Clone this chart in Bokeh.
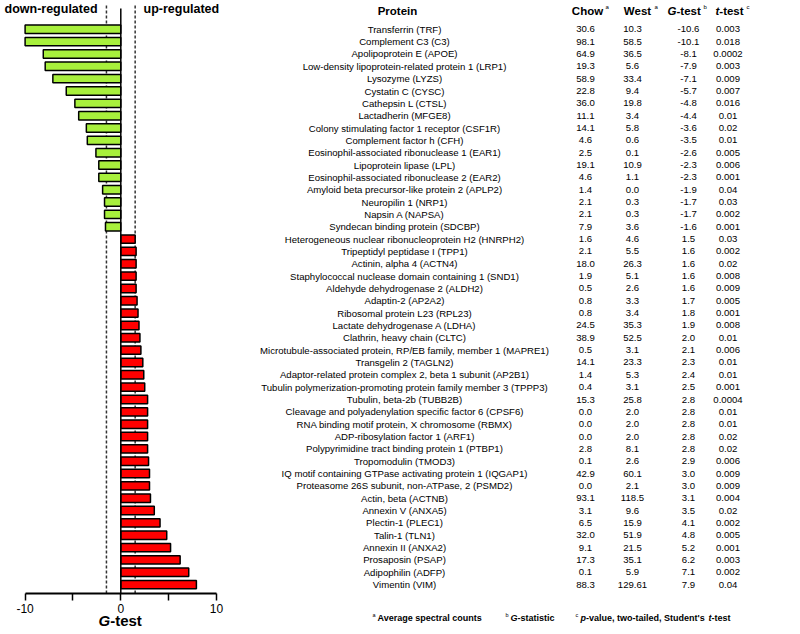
import numpy as np
from bokeh.plotting import figure
from bokeh.models import Range1d, FixedTicker, ColumnDataSource
from bokeh.core.properties import value
from bokeh.embed import file_html
from bokeh.resources import INLINE

proteins = [
    "Transferrin (TRF)", "Complement C3 (C3)", "Apolipoprotein E (APOE)",
    "Low-density lipoprotein-related protein 1 (LRP1)", "Lysozyme (LYZS)",
    "Cystatin C (CYSC)", "Cathepsin L (CTSL)", "Lactadherin (MFGE8)",
    "Colony stimulating factor 1 receptor (CSF1R)", "Complement factor h (CFH)",
    "Eosinophil-associated ribonuclease 1 (EAR1)", "Lipoprotein lipase (LPL)",
    "Eosinophil-associated ribonuclease 2 (EAR2)",
    "Amyloid beta precursor-like protein 2 (APLP2)", "Neuropilin 1 (NRP1)",
    "Napsin A (NAPSA)", "Syndecan binding protein (SDCBP)",
    "Heterogeneous nuclear ribonucleoprotein H2 (HNRPH2)",
    "Tripeptidyl peptidase I (TPP1)", "Actinin, alpha 4 (ACTN4)",
    "Staphylococcal nuclease domain containing 1 (SND1)",
    "Aldehyde dehydrogenase 2 (ALDH2)", "Adaptin-2 (AP2A2)",
    "Ribosomal protein L23 (RPL23)", "Lactate dehydrogenase A (LDHA)",
    "Clathrin, heavy chain (CLTC)",
    "Microtubule-associated protein, RP/EB family, member 1 (MAPRE1)",
    "Transgelin 2 (TAGLN2)",
    "Adaptor-related protein complex 2, beta 1 subunit (AP2B1)",
    "Tubulin polymerization-promoting protein family member 3 (TPPP3)",
    "Tubulin, beta-2b (TUBB2B)",
    "Cleavage and polyadenylation specific factor 6 (CPSF6)",
    "RNA binding motif protein, X chromosome (RBMX)",
    "ADP-ribosylation factor 1 (ARF1)",
    "Polypyrimidine tract binding protein 1 (PTBP1)", "Tropomodulin (TMOD3)",
    "IQ motif containing GTPase activating protein 1 (IQGAP1)",
    "Proteasome 26S subunit, non-ATPase, 2 (PSMD2)", "Actin, beta (ACTNB)",
    "Annexin V (ANXA5)", "Plectin-1 (PLEC1)", "Talin-1 (TLN1)",
    "Annexin II (ANXA2)", "Prosaposin (PSAP)", "Adipophilin (ADFP)",
    "Vimentin (VIM)",
]
chow = ["30.6", "98.1", "64.9", "19.3", "58.9", "22.8", "36.0", "11.1", "14.1",
        "4.6", "2.5", "19.1", "4.6", "1.4", "2.1", "2.1", "7.9", "1.6", "2.1",
        "18.0", "1.9", "0.5", "0.8", "0.8", "24.5", "38.9", "0.5", "14.1", "1.4",
        "0.4", "15.3", "0.0", "0.0", "0.0", "2.8", "0.1", "42.9", "0.0", "93.1",
        "3.1", "6.5", "32.0", "9.1", "17.3", "0.1", "88.3"]
west = ["10.3", "58.5", "36.5", "5.6", "33.4", "9.4", "19.8", "3.4", "5.8",
        "0.6", "0.1", "10.9", "1.1", "0.0", "0.3", "0.3", "3.6", "4.6", "5.5",
        "26.3", "5.1", "2.6", "3.3", "3.4", "35.3", "52.5", "3.1", "23.3", "5.3",
        "3.1", "25.8", "2.0", "2.0", "2.0", "8.1", "2.6", "60.1", "2.1", "118.5",
        "9.6", "15.9", "51.9", "21.5", "35.1", "5.9", "129.61"]
gtest = [-10.6, -10.1, -8.1, -7.9, -7.1, -5.7, -4.8, -4.4, -3.6, -3.5, -2.6,
         -2.3, -2.3, -1.9, -1.7, -1.7, -1.6, 1.5, 1.6, 1.6, 1.6, 1.6, 1.7, 1.8,
         1.9, 2.0, 2.1, 2.3, 2.4, 2.5, 2.8, 2.8, 2.8, 2.8, 2.8, 2.9, 3.0, 3.0,
         3.1, 3.5, 4.1, 4.8, 5.2, 6.2, 7.1, 7.9]
ttest = ["0.003", "0.018", "0.0002", "0.003", "0.009", "0.007", "0.016", "0.01",
         "0.02", "0.01", "0.005", "0.006", "0.001", "0.04", "0.03", "0.002",
         "0.001", "0.03", "0.002", "0.02", "0.008", "0.009", "0.005", "0.001",
         "0.008", "0.01", "0.006", "0.01", "0.01", "0.001", "0.0004", "0.01",
         "0.01", "0.02", "0.02", "0.006", "0.009", "0.009", "0.004", "0.02",
         "0.002", "0.005", "0.001", "0.003", "0.002", "0.04"]
axis_ticks = [-10, -5, 0, 5, 10]
axis_tick_labels = {-10: "-10", -5: "", 0: "0", 5: "", 10: "10"}
thresholds = [-1.5, 1.5]
axis_min, axis_max = -10, 10

FONT = "Liberation Sans"
W, H = 800, 634
PX = 9.57          # pixels per G-test unit
ZERO = 120.3       # pixel position of G = 0
X0 = -ZERO / PX
X1 = X0 + W / PX
ROW0 = 28.8
PITCH = 12.34
AXIS_Y = 593.0


def gx(px):
    return X0 + px / PX


def gy(py):
    return (py - ROW0) / PITCH


n = len(proteins)
rows = np.arange(n)
g = np.array(gtest)
colors = ["#a8f03c" if v < 0 else "#ff0000" for v in g]

src = ColumnDataSource(dict(
    y=rows, right=np.maximum(g, axis_min), color=colors,
    protein=proteins, chow=chow, west=west,
    gtxt=[f"{v:.1f}" for v in g], ttxt=ttest,
    xp=[gx(404)] * n, xc=[gx(585)] * n, xw=[gx(632)] * n,
    xg=[gx(688)] * n, xt=[gx(727.5)] * n,
))

p = figure(width=W, height=H, x_range=Range1d(X0, X1),
           y_range=Range1d(gy(H), gy(0)),
           toolbar_location=None, output_backend="svg",
           y_axis_location=None,
           min_border_left=0, min_border_right=0, min_border_top=0,
           min_border_bottom=0)
p.outline_line_color = None
p.xgrid.visible = False
p.ygrid.visible = False
p.background_fill_color = "white"

ax = p.xaxis[0]
ax.fixed_location = gy(AXIS_Y)
ax.ticker = FixedTicker(ticks=axis_ticks, minor_ticks=[])
ax.bounds = (axis_min, axis_max)
ax.major_label_overrides = axis_tick_labels
ax.major_tick_out = 7
ax.major_tick_in = 0
ax.axis_line_width = 1.8
ax.major_tick_line_width = 1.5
ax.axis_line_color = "black"
ax.major_tick_line_color = "black"
ax.major_label_text_font = FONT
ax.major_label_text_font_size = "12px"
ax.major_label_text_color = "black"
ax.major_label_standoff = 3

# threshold lines (dashed) and zero line
p.segment(x0=thresholds, y0=[gy(5)] * 2, x1=thresholds, y1=[gy(AXIS_Y)] * 2,
          line_color="#333333", line_width=1.5, line_dash="3 2")
p.hbar(y="y", left=0, right="right", height=0.68, fill_color="color",
       line_color="black", line_width=1.5, source=src)
p.segment(x0=[0], y0=[gy(8)], x1=[0], y1=[gy(AXIS_Y)],
          line_color="black", line_width=1.5)

common = dict(text_font=value(FONT), text_font_size="9.6px",
              text_baseline="middle", text_align="center", text_color="black",
              source=src)
p.text(x="xp", y="y", text="protein", **common)
p.text(x="xc", y="y", text="chow", **common)
p.text(x="xw", y="y", text="west", **common)
p.text(x="xg", y="y", text="gtxt", **common)
p.text(x="xt", y="y", text="ttxt", **common)


def piece(px, py, txt, size, style="bold", align="left"):
    p.text(x=[gx(px)], y=[gy(py)], text=[txt], text_font=value(FONT),
           text_font_size=size, text_font_style=style, text_align=align,
           text_baseline="middle", text_color="black")


# top labels
piece(4, 8, "down-regulated", "12.5px")
piece(143, 8, "up-regulated", "12.5px")

# headers
HY = 10
SY = 6
piece(397, HY, "Protein", "11.5px", align="center")
piece(587, HY, "Chow", "11.5px", align="center")
piece(605, SY, "a", "6px", style="normal")
piece(637, HY, "West", "11.5px", align="center")
piece(654, SY, "a", "6px", style="normal")
piece(667, HY, "G", "11.5px", style="bold italic")
piece(676, HY, "-test", "11.5px")
piece(703, SY, "b", "6px", style="normal")
piece(715, HY, "t", "11.5px", style="bold italic")
piece(718.8, HY, "-test", "11.5px")
piece(746, SY, "c", "6px", style="normal")

# axis title
piece(98, 620, "G", "15px", style="bold italic")
piece(109.7, 620, "-test", "15px")

# footnotes
FY = 617
piece(372, FY - 3, "a", "5.5px", style="normal")
piece(377, FY, "Average spectral counts", "9px")
piece(505, FY - 3, "b", "5.5px", style="normal")
piece(510, FY, "G", "9px", style="bold italic")
piece(517, FY, "-statistic", "9px")
piece(575, FY - 3, "c", "5.5px", style="normal")
piece(580, FY, "p", "9px", style="bold italic")
piece(585.5, FY, "-value, two-tailed, Student's", "9px")
piece(708, FY, "t", "9px", style="bold italic")
piece(711, FY, "-test", "9px")

open("out.html", "w").write(file_html(p, INLINE))
